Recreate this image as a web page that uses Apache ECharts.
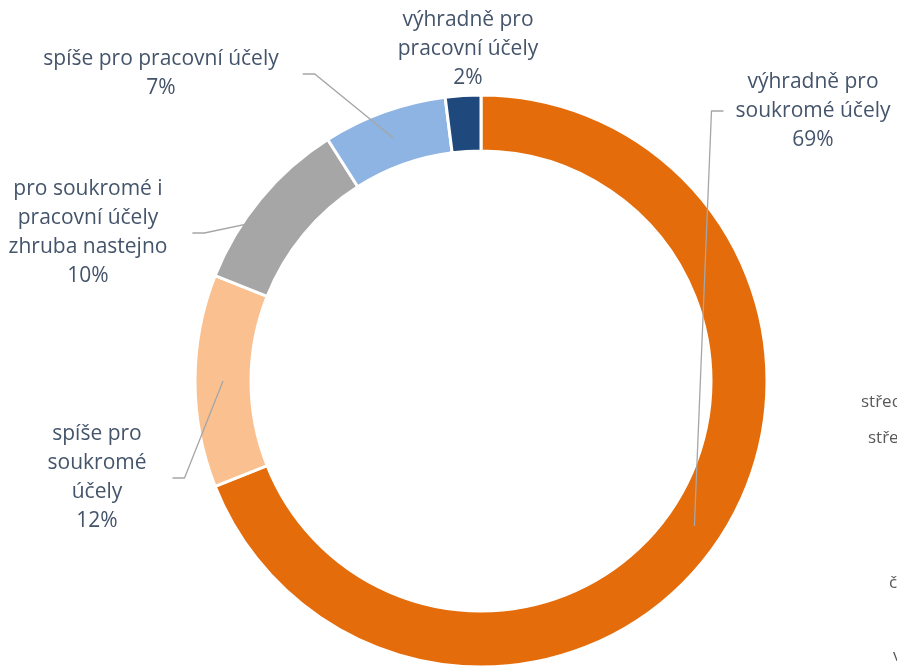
<!DOCTYPE html>
<html>
<head>
<meta charset="utf-8">
<title>Účel používání</title>
<script src="https://cdn.jsdelivr.net/npm/echarts@6/dist/echarts.min.js"></script>
<style>
html, body { margin: 0; padding: 0; background: #fff; }
#chart { width: 897px; height: 667px; }
</style>
</head>
<body>
<div id="chart"></div>
<script>
// kategorie (s rozdelenim radku jako v originale) a podily v %
var categories = [
  'výhradně pro\nsoukromé účely',
  'spíše pro\nsoukromé\núčely',
  'pro soukromé i\npracovní účely\nzhruba nastejno',
  'spíše pro pracovní účely',
  'výhradně pro\npracovní účely'
];
var shares = [69, 12, 10, 7, 2];
var colors = ['#E46C0A', '#FAC090', '#A6A6A6', '#8EB4E3', '#1F497D'];

// rozlozeni
var cx = 481, cy = 381, rIn = 230, rOut = 286;
var labelPos = [[813, 111], [97, 478], [88, 233], [161, 74], [468, 49]];
var labelGap = [12, 26, 25, 24, 0];

var total = shares.reduce(function (a, b) { return a + b; }, 0);
var midFrac = [];
var acc = 0;
shares.forEach(function (v) {
  midFrac.push((acc + v / 2) / total);
  acc += v;
});

var pieData = categories.map(function (c, i) {
  return { name: c, value: shares[i] };
});

var chart = echarts.init(document.getElementById('chart'));

var option = {
  animation: false,
  series: [{
    // prstenec
    type: 'pie',
    z: 2,
    center: [cx, cy],
    radius: [rIn, rOut],
    startAngle: 90,
    silent: true,
    emphasis: { disabled: true },
    itemStyle: { borderColor: '#fff', borderWidth: 3 },
    label: { show: false },
    labelLine: { show: false },
    data: pieData.map(function (d, i) {
      return { name: d.name, value: d.value, itemStyle: { color: colors[i] } };
    })
  }, {
    // popisky a odkazove cary nad prstencem
    type: 'pie',
    z: 5,
    center: [cx, cy],
    radius: [rIn, rOut],
    startAngle: 90,
    silent: true,
    avoidLabelOverlap: false,
    emphasis: { disabled: true },
    itemStyle: { color: 'rgba(0,0,0,0)', borderWidth: 0 },
    label: {
      show: true,
      position: 'outside',
      color: '#44546A',
      fontSize: 21,
      lineHeight: 29,
      fontFamily: 'Open Sans',
      align: 'center',
      formatter: function (p) { return p.name + '\n' + p.value + '%'; }
    },
    labelLine: {
      show: true,
      lineStyle: { color: '#A6A6A6', width: 1.3 }
    },
    labelLayout: function (p) {
      var i = p.dataIndex;
      var x = labelPos[i][0], y = labelPos[i][1];
      var w = p.labelRect.width;
      var res = { x: x, y: y, align: 'center', verticalAlign: 'middle' };
      if (i === 4) return res;
      var ang = (90 - midFrac[i] * 360) * Math.PI / 180;
      var rMid = (rIn + rOut) / 2;
      var start = [cx + rMid * Math.cos(ang), cy - rMid * Math.sin(ang)];
      var right = x > cx;
      var endX = right ? x - w / 2 - labelGap[i] : x + w / 2 + labelGap[i];
      var elbowX = right ? endX - 12 : endX + 12;
      res.labelLinePoints = [start, [elbowX, y], [endX, y]];
      return res;
    },
    data: pieData.map(function (d, i) {
      var o = { name: d.name, value: d.value };
      if (i === 4) o.labelLine = { show: false };
      return o;
    })
  }],
  graphic: [
    { type: 'text', left: 861, top: 394, style: { text: 'středn', fill: '#595959', font: '17px "Open Sans"' } },
    { type: 'text', left: 868, top: 430, style: { text: 'střed', fill: '#595959', font: '17px "Open Sans"' } },
    { type: 'text', left: 889, top: 575, style: { text: 'čas', fill: '#595959', font: '17px "Open Sans"' } },
    { type: 'text', left: 893, top: 648, style: { text: 'vý', fill: '#595959', font: '17px "Open Sans"' } }
  ]
};

chart.setOption(option);
</script>
</body>
</html>
